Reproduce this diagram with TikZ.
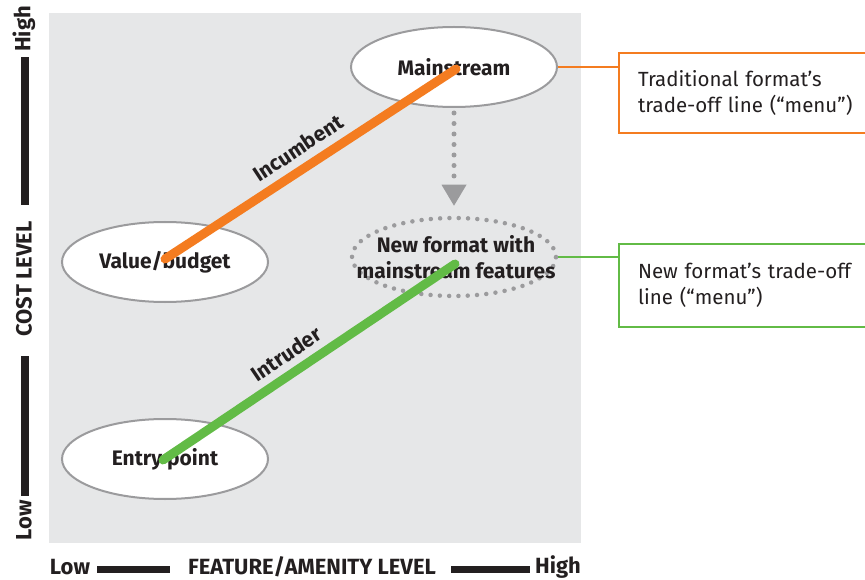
\documentclass[tikz,border=0pt]{standalone}
\usepackage{fontspec}
\setmainfont{Fira Sans}
\usetikzlibrary{arrows.meta,shapes.geometric}
\definecolor{panel}{HTML}{E6E7E8}
\definecolor{rim}{HTML}{9B9B9D}
\definecolor{incumb}{HTML}{F47C20}
\definecolor{intrud}{HTML}{62BB46}
\definecolor{ink}{HTML}{231F20}
\begin{document}
\begin{tikzpicture}[x=1pt,y=-1pt,
  lbl/.style={font=\bfseries\fontsize{21}{26}\selectfont, text=ink, inner sep=0pt},
  state/.style={ellipse, draw=rim, line width=2pt, fill=white,
    minimum width=206pt, minimum height=80pt, inner sep=0pt, lbl},
  newstate/.style={ellipse, draw=rim, line width=4.5pt, line cap=round,
    dash pattern=on 0pt off 9.3pt, minimum width=204pt, minimum height=78pt,
    inner sep=0pt},
  tradeline/.style={line width=9pt, line cap=round},
  callout/.style={draw, line width=2pt, fill=white, anchor=west, align=left,
    text width=232pt, inner xsep=19pt, inner ysep=0pt, text=ink,
    font=\fontsize{20.5}{25.5}\selectfont},
  axisbar/.style={fill=ink},
  axislbl/.style={lbl, font=\bfseries\fontsize{22}{26}\selectfont}]

\useasboundingbox (0,0) rectangle (865,580);

% plotting area
\fill[panel] (49,13) rectangle (581,543);

% format positions
\node[state] (main) at (454,67) {Mainstream};
\node[state] (value) at (165,262) {Value/budget};
\node[state] (entry) at (165,459) {Entry point};
\node[newstate] (newf) at (454,257) {};
\node[lbl, align=center] (newfText) at (456,257) {New format with\\mainstream features};

% ends of the trade-off lines
\coordinate (vbEnd) at (165,259);
\coordinate (msEnd) at (456,69);
\coordinate (epEnd) at (163,460);
\coordinate (nfEnd) at (455,264);

\draw[tradeline, incumb] (vbEnd) -- (msEnd);
\draw[tradeline, intrud] (epEnd) -- (nfEnd);

\node[lbl, rotate=33.4] (incLbl) at (298,148) {Incumbent};
\node[lbl, rotate=34] (intLbl) at (286,354) {Intruder};

% shift of the mainstream offer
\draw[rim, line width=5pt, line cap=round, dash pattern=on 0pt off 10.5pt,
  shorten <=5pt, shorten >=10pt,
  -{Triangle[width=25pt,length=21pt,line width=0pt,round=false]}]
  (main.south) -- (newf.north);

% callouts
\node[callout, draw=incumb] (tradBox) at (618,93) [minimum height=80pt]
  {Traditional format’s\\trade-off line (“menu”)};
\node[callout, draw=intrud] (newBox) at (618,285.5) [minimum height=83pt]
  {New format’s trade-off\\line (“menu”)};
\draw[incumb, line width=2pt] (main.east) -- (main.east -| tradBox.west);
\draw[intrud, line width=2pt] (newf.east) -- (newf.east -| newBox.west);

% cost axis
\fill[axisbar] (21,57) rectangle (29,205);
\fill[axisbar] (21,356) rectangle (29,496);
\node[axislbl, rotate=90] (costHigh) at (24,29) {High};
\node[axislbl, rotate=90] (costName) at (24,279) {COST LEVEL};
\node[axislbl, rotate=90] (costLow) at (24,520) {Low};

% feature axis
\fill[axisbar] (97,566) rectangle (170,573);
\fill[axisbar] (451,566) rectangle (530,573);
\node[axislbl] (featLow) at (70,567) {Low};
\node[axislbl] (featName) at (312,567) {FEATURE/AMENITY LEVEL};
\node[axislbl] (featHigh) at (558,567) {High};
\end{tikzpicture}
\end{document}
